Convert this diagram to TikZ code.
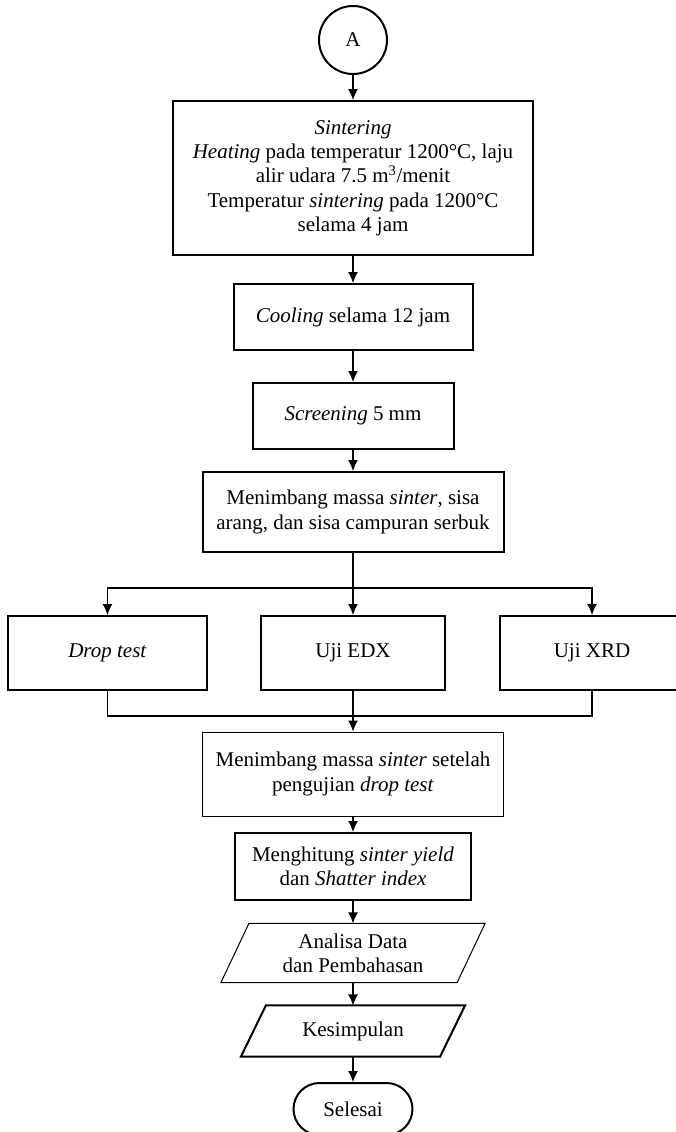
\documentclass[tikz,border=0pt]{standalone}
\usepackage{fontspec}
\setmainfont{Liberation Serif}
\usetikzlibrary{arrows.meta,positioning,calc}

\tikzset{
  box/.style={draw,line width=2pt,align=center,inner sep=2pt},
  thinbox/.style={draw,line width=1pt,align=center,inner sep=2pt},
  plain/.style={align=center,inner sep=0pt},
}

\begin{document}
\begin{tikzpicture}[x=1pt,y=-1pt,>={Latex[length=11pt,width=10pt]},line width=1.2pt,font=\fontsize{21}{24.3}\selectfont]
  \useasboundingbox (0,0) rectangle (675,1132);
  \node[circle,draw,line width=2pt,minimum size=68pt,inner sep=0pt] (a) at (353,40) {A};
  \node[box,minimum width=360pt,minimum height=154pt] (sinter) at (353,178) {\textit{Sintering}\\\textit{Heating} pada temperatur 1200°C, laju\\alir udara 7.5 m\textsuperscript{3}/menit\\Temperatur \textit{sintering} pada 1200°C\\selama 4 jam};
  \node[box,minimum width=239pt,minimum height=66pt] (cool) at (353,317) {\textit{Cooling} selama 12 jam};
  \node[box,minimum width=201pt,minimum height=66pt] (screen) at (353,416) {\textit{Screening} 5 mm};
  \node[box,minimum width=301pt,minimum height=80pt] (weigh) at (353,512) {Menimbang massa \textit{sinter}, sisa\\arang, dan sisa campuran serbuk};
  \coordinate (split) at (353,588);
  \node[box,minimum width=199pt,minimum height=74pt] (drop) at (107.5,653) {\textit{Drop test}};
  \node[box,minimum width=184pt,minimum height=74pt] (edx) at (353,653) {Uji EDX};
  \node[box,minimum width=184pt,minimum height=74pt] (xrd) at (592,653) {Uji XRD};
  \coordinate (merge) at (353,716);
  \node[thinbox,minimum width=301pt,minimum height=84pt] (weigh2) at (353,774) {Menimbang massa \textit{sinter} setelah\\pengujian \textit{drop test}};
  \node[box,minimum width=236pt,minimum height=67pt] (calc) at (353,866.5) {Menghitung \textit{sinter yield}\\dan \textit{Shatter index}};
  \node[plain,minimum width=235pt,minimum height=58pt] (anal) at (353,953) {Analisa Data\\dan Pembahasan};
  \node[plain,minimum width=198pt,minimum height=50pt] (concl) at (353,1031) {Kesimpulan};
  \node[draw,line width=2pt,rounded corners=26pt,minimum width=119pt,minimum height=52pt] (finish) at (353,1109) {Selesai};

  \draw[line width=1pt] ($(anal.north west)+(14,0)$) -- ($(anal.north east)+(14,0)$) -- ($(anal.south east)+(-14,0)$) -- ($(anal.south west)+(-14,0)$) -- cycle;
  \draw[line width=2pt] ($(concl.north west)+(12.5,0)$) -- ($(concl.north east)+(12.5,0)$) -- ($(concl.south east)+(-12.5,0)$) -- ($(concl.south west)+(-12.5,0)$) -- cycle;

  \draw[->] (a) -- (sinter);
  \draw[->] (sinter) -- (cool);
  \draw[->] (cool) -- (screen);
  \draw[->] (screen) -- (weigh);
  \draw (weigh) -- (split);
  \draw[->] (split) -| (drop);
  \draw[->] (split) -- (edx);
  \draw[->] (split) -| (xrd);
  \draw (drop) |- (merge);
  \draw (xrd) |- (merge);
  \draw[->] (edx) -- (weigh2);
  \draw[->] (weigh2) -- (calc);
  \draw[->] (calc) -- (anal);
  \draw[->] (anal) -- (concl);
  \draw[->] (concl) -- (finish);
\end{tikzpicture}
\end{document}
